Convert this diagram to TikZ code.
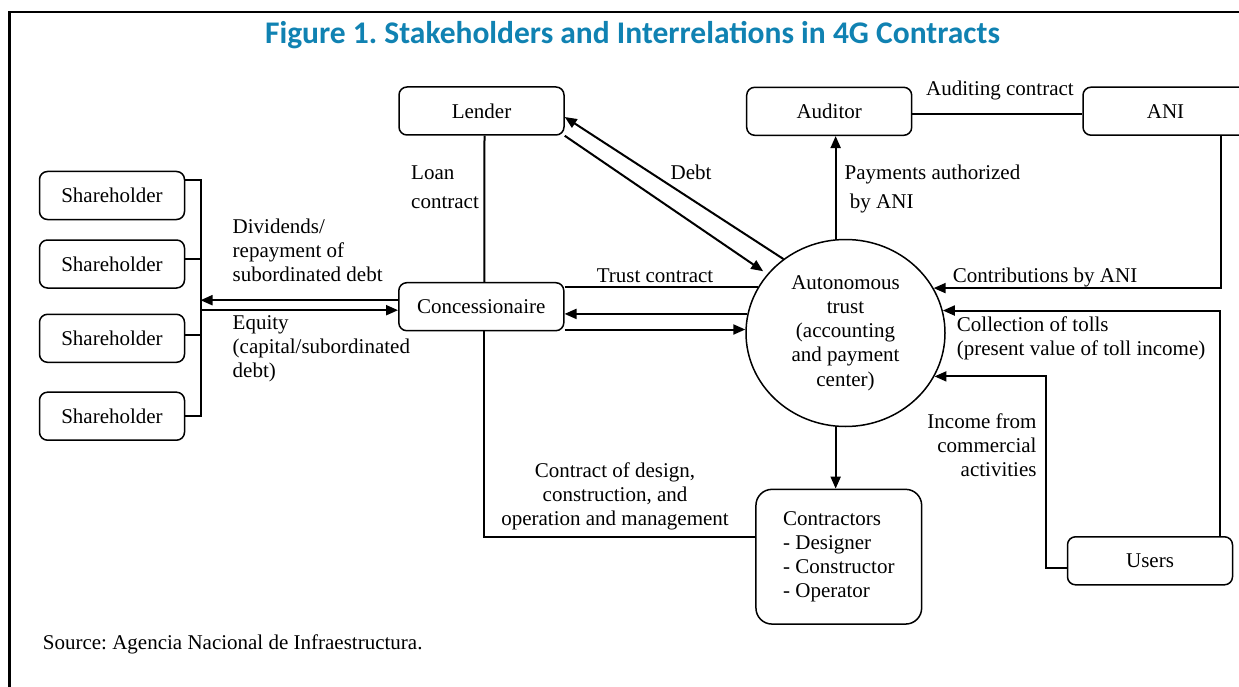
\documentclass[tikz,border=0pt]{standalone}
\usepackage{fontspec}
\setmainfont{Liberation Serif}
\newfontfamily\titlefont{Carlito}
\usepackage{tikz}
\usetikzlibrary{arrows.meta, positioning, shapes.geometric, calc}
\definecolor{figblue}{RGB}{16,130,178}
\frenchspacing

\begin{document}
\begin{tikzpicture}[x=1pt, y=-1pt,
  boxnode/.style={draw, line width=1.5pt, rounded corners=8pt, minimum width=165pt, minimum height=48pt, inner sep=0pt},
  shnode/.style={boxnode, minimum width=145pt},
  lbl/.style={inner sep=0pt},
  link/.style={line width=2pt},
  >={Triangle[length=12pt,width=10pt]},
  font=\fontsize{21}{24.2}\selectfont
]
\clip (0,0) rectangle (1239,687);
\fill[white] (0,0) rectangle (1239,687);

% Frame and title
\draw[line width=2.7pt] (9.5,687) -- (9.5,12) -- (1239,12);
\node[font=\titlefont\bfseries\fontsize{31.5}{36}\selectfont, text=figblue, anchor=base] (title) at (632.5,43.3) {Figure 1. Stakeholders and Interrelations in 4G Contracts};

% Left: shareholders
\node[shnode] (sh1) at (112,195.5) {Shareholder};
\node[shnode] (sh2) at (112,264) {Shareholder};
\node[shnode] (sh3) at (112,338.3) {Shareholder};
\node[shnode] (sh4) at (112,416.2) {Shareholder};
\coordinate (brk) at (200.5,180);

% Boxes
\node[boxnode] (lend) at (481.5,111) {Lender};
\node[boxnode] (conc) at (481.3,306.7) {Concessionaire};
\node[boxnode] (aud) at (829.2,111.3) {Auditor};
\node[boxnode] (ani) at (1165.5,111.2) {ANI};
\node[boxnode] (users) at (1150,560.8) {Users};
\node[boxnode, rounded corners=16pt, minimum width=165.7pt, minimum height=134.7pt, align=left] (ctr) at (838.8,556.7) {Contractors\\- Designer\\- Constructor\\- Operator};
\node[ellipse, draw, line width=1.5pt, minimum width=199pt, minimum height=187pt, inner sep=0pt, align=center] (trust) at (845.5,333) {Autonomous\\trust\\(accounting\\and payment\\center)};

% Labels
\node[lbl, align=left, anchor=west] (lloan) at (411,187.5) {Loan\\[5pt]contract};
\node[lbl, align=left, anchor=west] (ldiv) at (232.5,250.2) {Dividends/\\repayment of\\subordinated debt};
\node[lbl, align=left, anchor=west] (lequ) at (232.5,349) {Equity\\(capital/subordinated\\debt)};
\node[lbl, anchor=base] (ldebt) at (691,179.3) {Debt};
\node[lbl, anchor=base] (laudit) at (1000,96) {Auditing contract};
\node[lbl, align=left, anchor=west] (lpay) at (844.5,189) {Payments authorized\\[4pt]\ by ANI};
\node[lbl, anchor=base] (ltrust) at (655,282.3) {Trust contract};
\node[lbl, anchor=base west] (lcontr) at (952.7,282.3) {Contributions by ANI};
\node[lbl, align=left, anchor=west] (ltoll) at (956.7,338.2) {Collection of tolls\\(present value of toll income)};
\node[lbl, align=right, anchor=east] (linc) at (1036.7,445.4) {Income from\\commercial\\activities};
\node[lbl, align=center] (ldesign) at (615,496.3) {Contract of design,\\construction, and\\operation and management};
\node[lbl, anchor=base west] (src) at (42.7,649.3) {Source: Agencia Nacional de Infraestructura.};

% Shareholder bracket and equity flows
\draw[link] (sh1.east |- brk) -- (brk) -- (brk |- sh4.east) -- (sh4.east);
\draw[link] ([yshift=5pt]sh2.east) -- ([yshift=5pt]sh2.east -| brk);
\draw[link] ([yshift=3.5pt]sh3.east) -- ([yshift=3.5pt]sh3.east -| brk);
\draw[link, ->] ([yshift=6.5pt]conc.west) -- ([yshift=6.5pt]conc.west -| brk);
\draw[link, ->] ([yshift=-3.5pt]conc.west -| brk) -- ([yshift=-3.5pt]conc.west);

% Contracts of the concessionaire
\draw[link] ([xshift=3pt]lend.south) -- ([xshift=3pt]conc.north);
\draw[link] ([xshift=3pt]conc.south) |- ([yshift=20pt]ctr.west);
\draw[link] (conc.east |- trust.152.5) -- (trust.152.5);
\draw[link, ->] (trust.169.5) -- (conc.east |- trust.169.5);
\draw[link, ->] (conc.east |- trust.178.5) -- (trust.178.5);

% Debt
\draw[link, ->, shorten >=5pt] (lend.south east) -- (trust.143);
\draw[link, ->] (trust.130) -- ([yshift=-6pt]lend.east);

% Auditor, ANI and contractors
\draw[link] ([yshift=-3pt]aud.east) -- ([yshift=-3pt]aud.east -| ani.west);
\draw[link, ->] (trust.96) -- (trust.96 |- aud.south);
\draw[link, ->] (trust.264) -- (trust.264 |- ctr.north);
\draw[link, ->] ([xshift=55pt]ani.south) |- (trust.27.5);

% Users
\draw[link, ->] ([xshift=70pt]users.north) |- (trust.13.4);
\draw[link, ->] ([yshift=-7.5pt]users.west) -- ++(-20.5pt,0) |- (trust.334.7);
\end{tikzpicture}
\end{document}
